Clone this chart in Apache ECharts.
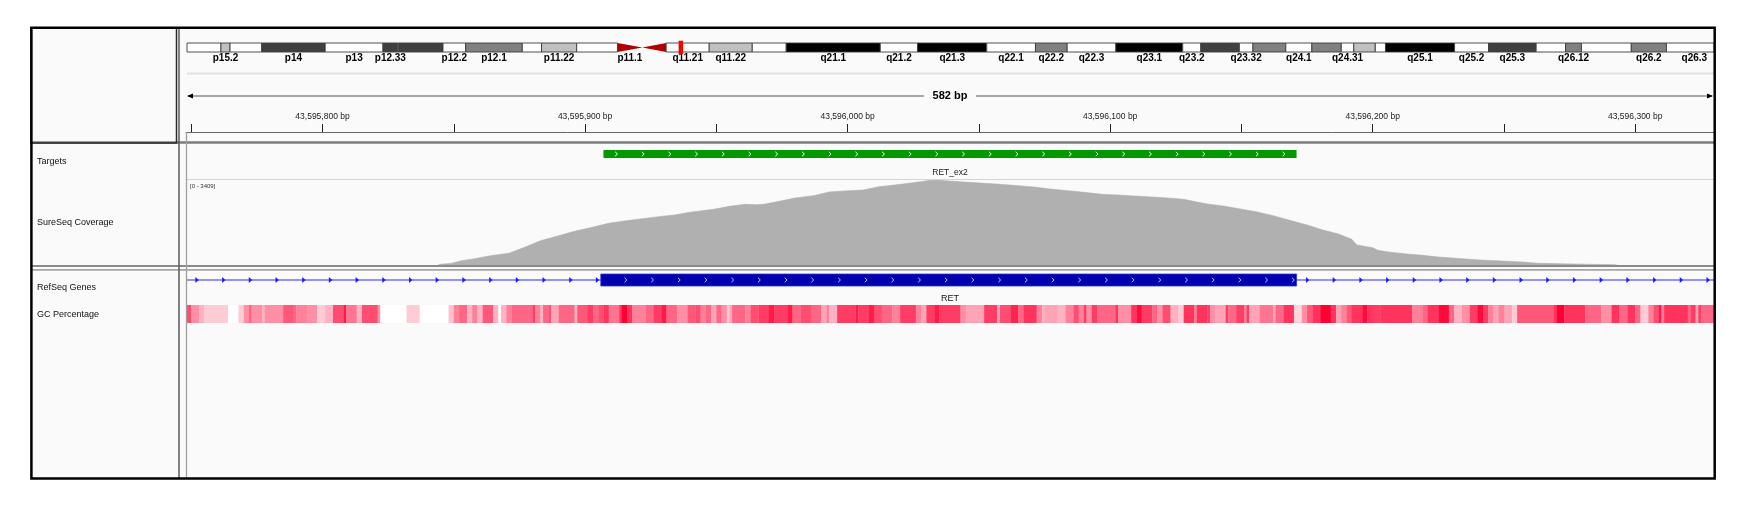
<!DOCTYPE html>
<html><head><meta charset="utf-8">
<script src="https://cdn.jsdelivr.net/npm/echarts@6/dist/echarts.min.js"></script>
<style>html,body{margin:0;padding:0;background:#fff}#c{width:1753px;height:510px}</style>
</head><body><div id="c"></div>
<script>
// ---------- DATA ----------
// View (chr10, hg19)
const VIEW_START = 43595748;
const VIEW_END = 43596330;
// Chromosome 10 cytobands: [name, startMb, endMb, stain]
const chromBands = [
 ['p15.3',0,3.0,'gneg'],['p15.2',3.0,3.8,'gpos25'],['p15.1',3.8,6.6,'gneg'],['p14',6.6,12.2,'gpos75'],
 ['p13',12.2,17.3,'gneg'],['p12.33',17.3,18.6,'gpos75'],['p12.32',18.6,18.7,'gneg'],['p12.31',18.7,22.6,'gpos75'],
 ['p12.2',22.6,24.6,'gneg'],['p12.1',24.6,29.6,'gpos50'],['p11.23',29.6,31.3,'gneg'],['p11.22',31.3,34.4,'gpos25'],
 ['p11.21',34.4,38.0,'gneg'],['p11.1',38.0,40.2,'acen'],['q11.1',40.2,42.3,'acen'],['q11.21',42.3,46.1,'gneg'],
 ['q11.22',46.1,49.9,'gpos25'],['q11.23',49.9,52.9,'gneg'],['q21.1',52.9,61.2,'gpos100'],['q21.2',61.2,64.5,'gneg'],
 ['q21.3',64.5,70.6,'gpos100'],['q22.1',70.6,74.9,'gneg'],['q22.2',74.9,77.7,'gpos50'],['q22.3',77.7,82.0,'gneg'],
 ['q23.1',82.0,87.9,'gpos100'],['q23.2',87.9,89.5,'gneg'],['q23.31',89.5,92.9,'gpos75'],['q23.32',92.9,94.1,'gneg'],
 ['q23.33',94.1,97.0,'gpos50'],['q24.1',97.0,99.3,'gneg'],['q24.2',99.3,101.9,'gpos50'],['q24.31',101.9,103.0,'gneg'],
 ['q24.32',103.0,104.9,'gpos25'],['q24.33',104.9,105.8,'gneg'],['q25.1',105.8,111.9,'gpos100'],['q25.2',111.9,114.9,'gneg'],
 ['q25.3',114.9,119.1,'gpos75'],['q26.11',119.1,121.7,'gneg'],['q26.12',121.7,123.1,'gpos50'],['q26.13',123.1,127.5,'gneg'],
 ['q26.2',127.5,130.6,'gpos50'],['q26.3',130.6,135.53,'gneg']
];
const bandLabels = ['p15.2','p14','p13','p12.33','p12.2','p12.1','p11.22','p11.1','q11.21','q11.22','q21.1','q21.2',
 'q21.3','q22.1','q22.2','q22.3','q23.1','q23.2','q23.32','q24.1','q24.31','q25.1','q25.2','q25.3','q26.12','q26.2','q26.3'];
const stainColors = {gneg:'#ffffff', gpos25:'#c0c0c0', gpos50:'#808080', gpos75:'#404040', gpos100:'#000000', acen:'#b00000'};
// Ruler
const rulerLabelValues = [43595800,43595900,43596000,43596100,43596200,43596300];
const rulerTickValues = [43595750,43595800,43595850,43595900,43595950,43596000,43596050,43596100,43596150,43596200,43596250,43596300];
// Targets: [start, end, name]
const targets = [[43595907, 43596171, 'RET_ex2']];
// Gene model
const geneName = 'RET';
const geneTx = [43572516, 43625799];
const geneExons = [[43595906, 43596171]];
// Coverage
const covRangeMax = 3409;
const covPos = [43595844,43595845,43595849,43595853,43595858,43595864,43595871,43595877,43595883,43595890,43595896,
 43595902,43595909,43595915,43595921,43595928,43595934,43595940,43595949,43595955,43595961,43595965,43595968,43595974,
 43595980,43595987,43595993,43595999,43596006,43596012,43596018,43596025,43596031,43596034,43596037,43596046,43596052,
 43596058,43596065,43596071,43596077,43596084,43596090,43596097,43596103,43596109,43596116,43596122,43596128,43596133,
 43596137,43596143,43596149,43596156,43596162,43596168,43596175,43596181,43596187,43596192,43596194,43596200,43596202,
 43596206,43596213,43596219,43596225,43596234,43596241,43596249,43596257,43596263,43596276,43596292,43596293];
const covDepth = [0,30,65,173,253,373,469,710,975,1176,1350,
 1496,1672,1765,1845,1938,2005,2113,2233,2353,2433,2420,2433,2553,
 2687,2780,2928,2968,3008,3141,3208,3300,3385,3409,3380,3315,3275,
 3235,3181,3128,3048,2981,2914,2834,2808,2768,2727,2687,2633,2527,
 2446,2366,2259,2125,1978,1805,1604,1404,1243,1030,802,695,588,
 521,441,387,321,253,200,160,120,67,40,13,0];
// GC percentage: [startOffset, endOffset, gc%] relative to VIEW_START
const gcSegments = [
 [0,2,65],[2,5,52],[5,7,45],[7,16,40],[16,20,30],[20,22,40],[22,24,52],[24,25,60],[25,29,52],[29,30,45],[30,37,52],
 [37,41,63],[41,42,60],[42,46,55],[46,50,52],[50,53,40],[53,56,45],[56,60,65],[60,61,75],[61,65,57],[65,67,45],
 [67,73,65],[73,74,52],[74,84,30],[84,89,40],[89,100,30],
 [100,102,42],[102,104,55],[104,107,60],[107,109,45],[109,111,55],[111,113,45],[113,117,63],[117,119,45],[119,120,30],
 [120,122,45],[122,124,55],[124,132,60],[132,133,68],[133,135,55],[135,136,45],[136,138,60],[138,139,65],[139,142,48],
 [142,148,60],[148,149,45],[149,153,63],[153,155,68],[155,157,60],[157,159,65],[159,161,70],[161,165,57],[165,166,70],
 [166,168,80],[168,170,70],[170,175,55],[175,178,60],[178,181,68],[181,183,75],[183,187,60],[187,191,52],[191,194,63],
 [194,196,65],[196,198,55],[198,200,60],[200,202,48],[202,204,60],[204,206,52],[206,207,40],[207,208,48],[208,213,60],
 [213,215,55],[215,218,65],[218,222,68],[222,224,75],[224,229,68],[229,231,75],[231,234,60],[234,238,65],[238,242,60],
 [242,244,48],[244,245,55],[245,248,45],[248,255,68],[255,256,75],[256,260,68],[260,262,75],[262,265,65],[265,269,60],
 [269,272,55],[272,278,68],[278,280,55],[280,282,48],[282,285,68],[285,287,75],[287,291,68],
 [291,295,68],[295,297,52],[297,304,48],[304,309,68],[309,310,48],[310,314,65],[314,317,73],[317,319,60],[319,324,70],
 [324,326,55],[326,327,45],[327,332,48],[332,335,45],[335,338,55],[338,340,65],[340,342,55],[342,343,68],[343,345,52],
 [345,347,68],[347,354,60],[354,355,70],[355,360,52],[360,362,70],[362,364,78],[364,368,68],[368,370,60],[370,372,52],
 [372,375,65],[375,378,45],[378,380,40],[380,384,70],[384,385,55],[385,389,70],
 [389,390,68],[390,392,52],[392,396,48],[396,397,68],[397,400,60],[400,403,68],[403,404,55],[404,405,68],[405,409,48],
 [409,414,57],[414,415,48],[415,418,60],[418,422,70],[422,425,38],[425,427,52],[427,429,63],[429,432,70],[432,436,80],
 [436,438,70],[438,440,48],[440,442,55],[442,444,63],[444,448,70],[448,450,78],[450,452,70],[452,455,68],[455,467,70],
 [467,471,55],[471,473,60],[473,477,70],[477,481,78],[481,483,60],[483,486,45],
 [486,489,52],[489,492,68],[492,494,78],[494,496,68],[496,498,55],[498,500,48],[500,502,55],[502,505,48],[505,507,40],
 [507,521,63],[521,522,70],[522,525,80],[525,533,70],[533,539,60],[539,543,52],[543,546,70],[546,549,60],[549,552,70],
 [552,554,60],[554,557,40],[557,559,55],[559,561,65],[561,562,75],[562,563,55],[563,572,70],[572,573,60],[573,575,68],
 [575,576,48],[576,577,68],[577,582,60]
];
const gcRange = [30, 80];
const trackNames = ['Targets','SureSeq Coverage','RefSeq Genes','GC Percentage'];

// ---------- CHART ----------
const FONT = '"Liberation Sans", Arial, sans-serif';
const chart = echarts.init(document.getElementById('c'), null, {renderer:'canvas'});

function clampX(x, cs){ return Math.min(Math.max(x, cs.x), cs.x + cs.width); }

function renderBand(params, api){
  const b = chromBands[params.dataIndex];
  const cs = params.coordSys;
  const a = api.coord([b[1], 1]), c = api.coord([b[2], 0]);
  const x0 = clampX(a[0], cs), x1 = clampX(c[0], cs);
  const top = a[1], bot = c[1], mid = (top + bot) / 2;
  if (b[3] === 'acen') {
    const pts = b[0][0] === 'p' ? [[x0,top],[x1,mid],[x0,bot]] : [[x1,top],[x0,mid],[x1,bot]];
    return {type:'polygon', shape:{points:pts}, style:{fill:stainColors.acen}};
  }
  return {type:'rect', shape:{x:x0, y:top, width:x1-x0, height:bot-top},
    style:{fill:stainColors[b[3]], stroke:'#3c3c3c', lineWidth:0.9}};
}
const labeledBands = chromBands.filter(b => bandLabels.indexOf(b[0]) >= 0);
function renderBandLabel(params, api){
  const b = labeledBands[params.dataIndex];
  const p = api.coord([(b[1]+b[2])/2, 0]);
  return {type:'text', x:p[0], y:p[1]+6.3, style:{text:b[0], font:'bold 10px ' + FONT, fill:'#000', align:'center', verticalAlign:'middle'}};
}
function renderLocus(params, api){
  const a = api.coord([VIEW_START/1e6, 1]), c = api.coord([VIEW_END/1e6, 0]);
  const cx = (a[0]+c[0])/2, w = Math.max(4.5, c[0]-a[0]);
  return {type:'rect', shape:{x:cx-w/2, y:a[1]-2.3, width:w, height:(c[1]-a[1])+4.6}, style:{fill:'#ff0000'}};
}
function renderSpan(params, api){
  const cs = params.coordSys;
  const a = api.coord([VIEW_START, 0]), c = api.coord([VIEW_END, 0]);
  const y = cs.y + 22, mid = (a[0]+c[0])/2, gap = 26;
  const txt = Math.round(VIEW_END - VIEW_START) + ' bp';
  return {type:'group', children:[
    {type:'line', shape:{x1:a[0]+2, y1:y, x2:mid-gap, y2:y}, style:{stroke:'#555', lineWidth:1}},
    {type:'line', shape:{x1:mid+gap, y1:y, x2:c[0]-2, y2:y}, style:{stroke:'#555', lineWidth:1}},
    {type:'polygon', shape:{points:[[a[0]+1,y],[a[0]+7,y-2.6],[a[0]+7,y+2.6]]}, style:{fill:'#000'}},
    {type:'polygon', shape:{points:[[c[0]-1,y],[c[0]-7,y-2.6],[c[0]-7,y+2.6]]}, style:{fill:'#000'}},
    {type:'text', x:mid, y:y, style:{text:txt, font:'bold 11px ' + FONT, fill:'#000', align:'center', verticalAlign:'middle'}}
  ]};
}
function chevrons(children, xs, xe, ym, first, color){
  for (let x = xs + first; x < xe - 1; x += 26.7) {
    children.push({type:'polyline', shape:{points:[[x-1.3,ym-2.2],[x+1,ym],[x-1.3,ym+2.2]]}, style:{stroke:color, lineWidth:1, fill:null}});
  }
}
function renderTarget(params, api){
  const t = targets[params.dataIndex];
  const cs = params.coordSys;
  const a = api.coord([t[0], 1]), c = api.coord([t[1], 0]);
  const x0 = clampX(a[0], cs), x1 = clampX(c[0], cs);
  const ym = (a[1]+c[1])/2;
  const ch = [{type:'rect', shape:{x:x0, y:a[1], width:x1-x0, height:c[1]-a[1]}, style:{fill:'#009a00'}}];
  chevrons(ch, a[0], x1, ym, 13, '#ffffff');
  ch.push({type:'text', x:(x0+x1)/2, y:c[1]+15, style:{text:t[2], font:'8.5px ' + FONT, fill:'#222', align:'center', verticalAlign:'middle'}});
  return {type:'group', children:ch};
}
function renderGene(params, api){
  const cs = params.coordSys;
  const a = api.coord([geneTx[0], 1]), c = api.coord([geneTx[1], 0]);
  const x0 = clampX(a[0], cs), x1 = clampX(c[0], cs);
  const ym = (a[1]+c[1])/2;
  const ch = [{type:'line', shape:{x1:x0, y1:ym, x2:x1, y2:ym}, style:{stroke:'#2a2aff', lineWidth:1.2}}];
  const exPix = geneExons.map(e => [clampX(api.coord([e[0],0])[0], cs), clampX(api.coord([e[1],0])[0], cs)]);
  const introns = [];
  let prev = x0;
  exPix.forEach(e => { introns.push([prev, e[0]]); prev = e[1]; });
  introns.push([prev, x1]);
  introns.forEach(seg => {
    for (let x = seg[0] + 11; x < seg[1] - 2; x += 26.7) {
      ch.push({type:'polygon', shape:{points:[[x-1.6,ym-3],[x+1.8,ym],[x-1.6,ym+3]]}, style:{fill:'#1a1aff'}});
    }
  });
  exPix.forEach(e => {
    ch.push({type:'rect', shape:{x:e[0], y:a[1], width:e[1]-e[0], height:c[1]-a[1]}, style:{fill:'#0000b0', stroke:'#3030c8', lineWidth:0.8}});
    chevrons(ch, e[0], e[1]+1, ym, 25, '#c8c8ff');
  });
  ch.push({type:'text', x:(x0+x1)/2, y:c[1]+13, style:{text:geneName, font:'9px ' + FONT, fill:'#111', align:'center', verticalAlign:'middle'}});
  return {type:'group', children:ch};
}
function gcColor(v){
  let t = (v - gcRange[0]) / (gcRange[1] - gcRange[0]);
  t = Math.max(0, Math.min(1, t));
  return 'rgb(255,' + Math.round(255 - 255*t) + ',' + Math.round(255 - 204*t) + ')';
}
function renderGC(params, api){
  const g = gcSegments[params.dataIndex];
  const cs = params.coordSys;
  const a = api.coord([VIEW_START + g[0], 1]), c = api.coord([VIEW_START + g[1], 0]);
  const x0 = clampX(a[0], cs), x1 = clampX(c[0], cs);
  return {type:'rect', shape:{x:x0, y:a[1], width:x1-x0+0.3, height:c[1]-a[1]}, style:{fill:gcColor(g[2])}};
}

const L = 186, W = 1528;
const genomicAxis = (gi, extra) => Object.assign({type:'value', gridIndex:gi, min:VIEW_START, max:VIEW_END, show:false}, extra||{});
const unitY = gi => ({type:'value', gridIndex:gi, min:0, max:1, show:false});

const option = {
  animation:false,
  grid:[
    {left:187, top:43, width:1527, height:9},       // 0 ideogram
    {left:L, top:74, width:W, height:58},           // 1 ruler
    {left:L, top:150, width:W, height:8},           // 2 targets
    {left:L, top:180, width:W, height:85},          // 3 coverage
    {left:L, top:274, width:W, height:12},          // 4 genes
    {left:L, top:305, width:W, height:18}           // 5 GC
  ],
  xAxis:[
    {type:'value', gridIndex:0, min:0, max:134.8, show:false},
    genomicAxis(1, {show:true, position:'bottom',
      axisLine:{show:true, lineStyle:{color:'#666', width:1}},
      axisTick:{show:true, inside:true, length:8, customValues:rulerTickValues, lineStyle:{color:'#222', width:1}},
      axisLabel:{show:true, inside:true, margin:11, customValues:rulerLabelValues, fontSize:8.5, fontFamily:FONT, color:'#222',
        formatter: v => Number(v).toLocaleString('en-US') + ' bp'},
      splitLine:{show:false}}),
    genomicAxis(2), genomicAxis(3), genomicAxis(4), genomicAxis(5)
  ],
  yAxis:[unitY(0), unitY(1), unitY(2),
    {type:'value', gridIndex:3, min:0, max:covRangeMax, show:false},
    unitY(4), unitY(5)],
  series:[
    {type:'custom', coordinateSystem:'cartesian2d', xAxisIndex:0, yAxisIndex:0, renderItem:renderBand,
      data:chromBands.map(b => [b[1], b[2]]), encode:{x:[0,1]}, silent:true},
    {type:'custom', coordinateSystem:'cartesian2d', xAxisIndex:0, yAxisIndex:0, renderItem:renderBandLabel,
      data:labeledBands.map(b => [(b[1]+b[2])/2]), encode:{x:0}, silent:true},
    {type:'custom', coordinateSystem:'cartesian2d', xAxisIndex:0, yAxisIndex:0, renderItem:renderLocus,
      data:[[VIEW_START/1e6, VIEW_END/1e6]], encode:{x:[0,1]}, silent:true, z:5},
    {type:'custom', coordinateSystem:'cartesian2d', xAxisIndex:1, yAxisIndex:1, renderItem:renderSpan,
      data:[[VIEW_START, VIEW_END]], encode:{x:[0,1]}, silent:true},
    {type:'custom', coordinateSystem:'cartesian2d', xAxisIndex:2, yAxisIndex:2, renderItem:renderTarget,
      data:targets.map(t => [t[0], t[1]]), encode:{x:[0,1]}, silent:true},
    {type:'line', xAxisIndex:3, yAxisIndex:3, data:covPos.map((p,i) => [p, covDepth[i]]),
      showSymbol:false, symbol:'none', lineStyle:{width:0.6, color:'#acacac'}, areaStyle:{color:'#b0b0b0', opacity:1}, silent:true},
    {type:'custom', coordinateSystem:'cartesian2d', xAxisIndex:4, yAxisIndex:4, renderItem:renderGene,
      data:[[geneTx[0], geneTx[1]]], encode:{x:[0,1]}, silent:true},
    {type:'custom', coordinateSystem:'cartesian2d', xAxisIndex:5, yAxisIndex:5, renderItem:renderGC,
      data:gcSegments.map(g => [VIEW_START + g[0], VIEW_START + g[1]]), encode:{x:[0,1]}, silent:true}
  ],
  graphic:[
    {type:'rect', z:-10, shape:{x:31, y:28, width:1683, height:450}, style:{fill:'#fafafa'}},
    {type:'line', z:50, shape:{x1:187, y1:73.5, x2:1714, y2:73.5}, style:{stroke:'#e2e2e2', lineWidth:2}},
    {type:'line', z:50, shape:{x1:187, y1:179.5, x2:1714, y2:179.5}, style:{stroke:'#d4d4d4', lineWidth:1}},
    {type:'line', z:50, shape:{x1:31, y1:142.5, x2:1714, y2:142.5}, style:{stroke:'#7c7c7c', lineWidth:2.5}},
    {type:'line', z:50, shape:{x1:31, y1:266, x2:1714, y2:266}, style:{stroke:'#8a8a8a', lineWidth:1.8}},
    {type:'line', z:50, shape:{x1:31, y1:269.8, x2:1714, y2:269.8}, style:{stroke:'#a6a6a6', lineWidth:1.8}},
    {type:'line', z:51, shape:{x1:179, y1:28, x2:179, y2:478}, style:{stroke:'#5a5a5a', lineWidth:1.5}},
    {type:'line', z:51, shape:{x1:186.5, y1:132, x2:186.5, y2:478}, style:{stroke:'#a0a0a0', lineWidth:1.3}},
    {type:'rect', z:52, shape:{x:31, y:28, width:145.5, height:115}, style:{fill:null, stroke:'#2a2a2a', lineWidth:1.5}},
    {type:'rect', z:60, shape:{x:31.4, y:27.8, width:1683.3, height:450.7}, style:{fill:null, stroke:'#000', lineWidth:2.5}},
    {type:'text', z:55, x:37, y:162, style:{text:trackNames[0], font:'9px ' + FONT, fill:'#111', verticalAlign:'middle'}},
    {type:'text', z:55, x:37, y:223, style:{text:trackNames[1], font:'9px ' + FONT, fill:'#111', verticalAlign:'middle'}},
    {type:'text', z:55, x:37, y:288, style:{text:trackNames[2], font:'9px ' + FONT, fill:'#111', verticalAlign:'middle'}},
    {type:'text', z:55, x:37, y:315, style:{text:trackNames[3], font:'9px ' + FONT, fill:'#111', verticalAlign:'middle'}},
    {type:'text', z:55, x:190, y:186, style:{text:'[0 - ' + covRangeMax + ']', font:'6px ' + FONT, fill:'#333', verticalAlign:'middle'}}
  ]
};
chart.setOption(option);
</script></body></html>
